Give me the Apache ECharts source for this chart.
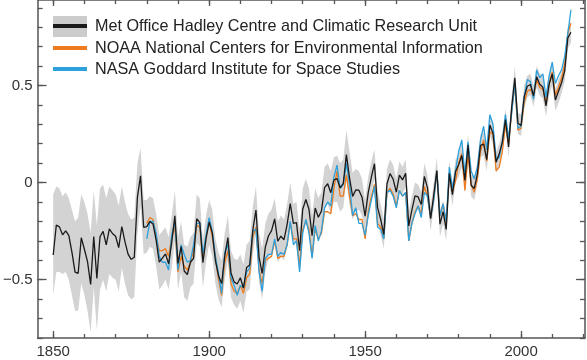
<!DOCTYPE html>
<html><head><meta charset="utf-8">
<script src="https://cdn.jsdelivr.net/npm/echarts@6/dist/echarts.min.js"></script>
<style>html,body{margin:0;padding:0;background:#fff}#c{width:587px;height:360px}</style>
</head><body><div id="c"></div>
<script>
// ---- data ----
const hadStart = 1850;
const hadcrut = [
-0.373,-0.218,-0.228,-0.269,-0.248,-0.272,-0.358,-0.461,-0.467,-0.284,
-0.343,-0.407,-0.524,-0.278,-0.494,-0.279,-0.251,-0.321,-0.238,-0.262,
-0.276,-0.335,-0.227,-0.304,-0.368,-0.395,-0.384,-0.075,0.035,-0.230,
-0.227,-0.200,-0.213,-0.296,-0.409,-0.389,-0.367,-0.418,-0.307,-0.171,
-0.416,-0.330,-0.455,-0.473,-0.410,-0.390,-0.186,-0.206,-0.412,-0.289,
-0.203,-0.259,-0.402,-0.479,-0.520,-0.377,-0.283,-0.465,-0.511,-0.522,
-0.490,-0.544,-0.437,-0.424,-0.244,-0.141,-0.383,-0.468,-0.333,-0.275,
-0.247,-0.187,-0.302,-0.276,-0.294,-0.215,-0.108,-0.210,-0.206,-0.350,
-0.137,-0.087,-0.137,-0.273,-0.131,-0.178,-0.147,-0.026,-0.006,-0.052,
0.014,0.020,-0.027,-0.004,0.144,0.025,-0.071,-0.038,-0.039,-0.074,
-0.173,-0.052,0.028,0.097,-0.129,-0.190,-0.267,-0.007,0.046,0.017,
-0.049,0.038,0.014,0.048,-0.223,-0.140,-0.068,-0.074,-0.113,0.032,
-0.027,-0.186,-0.065,0.062,-0.214,-0.149,-0.241,0.047,-0.062,0.057,
0.092,0.140,0.011,0.194,-0.014,-0.030,0.045,0.192,0.198,0.118,
0.296,0.254,0.105,0.148,0.208,0.325,0.183,0.390,0.539,0.306,
0.294,0.441,0.496,0.505,0.447,0.545,0.506,0.491,0.395,0.506,
0.560,0.425,0.470,0.514,0.576,0.745,0.774];
const hadLow = [
-0.58,-0.46,-0.46,-0.47,-0.46,-0.50,-0.58,-0.66,-0.66,-0.52,
-0.58,-0.66,-0.77,-0.54,-0.76,-0.55,-0.50,-0.56,-0.47,-0.49,
-0.50,-0.56,-0.44,-0.52,-0.58,-0.60,-0.59,-0.26,-0.12,-0.37,
-0.36,-0.33,-0.34,-0.43,-0.55,-0.53,-0.50,-0.55,-0.44,-0.30,
-0.55,-0.46,-0.59,-0.61,-0.54,-0.52,-0.31,-0.33,-0.54,-0.41,
-0.32,-0.38,-0.52,-0.60,-0.64,-0.50,-0.40,-0.59,-0.63,-0.65,
-0.61,-0.67,-0.56,-0.55,-0.37,-0.26,-0.51,-0.60,-0.46,-0.39,
-0.36,-0.29,-0.41,-0.38,-0.40,-0.32,-0.21,-0.31,-0.31,-0.46,
-0.24,-0.19,-0.24,-0.38,-0.23,-0.28,-0.25,-0.13,-0.11,-0.16,
-0.10,-0.10,-0.15,-0.13,0.01,-0.11,-0.19,-0.15,-0.14,-0.17,
-0.26,-0.14,-0.05,0.02,-0.21,-0.27,-0.34,-0.08,-0.03,-0.06,
-0.12,-0.03,-0.06,-0.02,-0.29,-0.21,-0.14,-0.14,-0.18,-0.03,
-0.09,-0.25,-0.13,0.00,-0.28,-0.21,-0.30,-0.01,-0.12,0.00,
0.03,0.08,-0.05,0.13,-0.07,-0.09,-0.01,0.13,0.14,0.06,
0.24,0.20,0.05,0.09,0.15,0.27,0.13,0.33,0.48,0.25,
0.24,0.38,0.44,0.45,0.39,0.49,0.45,0.43,0.34,0.45,
0.50,0.37,0.41,0.46,0.52,0.69,0.72];
const hadHigh = [
-0.06,-0.02,-0.03,-0.07,-0.05,-0.08,-0.14,-0.20,-0.18,-0.06,
-0.10,-0.16,-0.26,-0.04,-0.22,-0.03,-0.01,-0.08,-0.02,-0.04,
-0.06,-0.12,-0.02,-0.10,-0.16,-0.19,-0.18,0.10,0.18,-0.09,
-0.09,-0.07,-0.08,-0.16,-0.27,-0.25,-0.23,-0.28,-0.17,-0.04,
-0.28,-0.20,-0.32,-0.33,-0.28,-0.26,-0.06,-0.08,-0.29,-0.17,
-0.09,-0.14,-0.29,-0.36,-0.40,-0.26,-0.17,-0.35,-0.39,-0.40,
-0.37,-0.42,-0.32,-0.30,-0.12,-0.02,-0.26,-0.34,-0.21,-0.16,
-0.14,-0.08,-0.20,-0.17,-0.19,-0.11,0.00,-0.11,-0.10,-0.24,
-0.03,0.02,-0.03,-0.17,-0.03,-0.08,-0.05,0.08,0.10,0.06,
0.13,0.14,0.10,0.12,0.27,0.16,0.05,0.07,0.06,0.02,
-0.09,0.03,0.11,0.17,-0.05,-0.11,-0.19,0.07,0.12,0.09,
0.02,0.11,0.08,0.12,-0.15,-0.07,0.00,-0.01,-0.05,0.10,
0.04,-0.12,0.00,0.13,-0.15,-0.09,-0.18,0.11,0.00,0.12,
0.15,0.20,0.07,0.25,0.04,0.03,0.10,0.25,0.26,0.18,
0.35,0.31,0.16,0.20,0.26,0.38,0.24,0.45,0.60,0.36,
0.35,0.50,0.55,0.56,0.50,0.60,0.56,0.55,0.45,0.56,
0.62,0.48,0.53,0.57,0.64,0.80,0.83];
const noaaStart = 1880;
const noaa = [
-0.21,-0.18,-0.19,-0.28,-0.35,-0.35,-0.34,-0.38,-0.28,-0.23,
-0.46,-0.38,-0.43,-0.45,-0.41,-0.35,-0.22,-0.23,-0.40,-0.28,
-0.20,-0.28,-0.38,-0.50,-0.58,-0.41,-0.35,-0.52,-0.56,-0.57,
-0.53,-0.57,-0.49,-0.47,-0.28,-0.23,-0.45,-0.52,-0.40,-0.39,
-0.38,-0.30,-0.39,-0.38,-0.38,-0.32,-0.21,-0.29,-0.29,-0.43,
-0.24,-0.20,-0.24,-0.38,-0.24,-0.29,-0.26,-0.15,-0.15,-0.16,
-0.03,0.06,-0.07,-0.07,0.04,-0.07,-0.17,-0.16,-0.19,-0.19,
-0.29,-0.15,-0.07,-0.01,-0.21,-0.23,-0.29,-0.05,-0.03,-0.06,
-0.12,-0.04,-0.07,-0.05,-0.30,-0.21,-0.15,-0.12,-0.16,-0.02,
-0.07,-0.18,-0.08,0.06,-0.17,-0.11,-0.21,0.05,-0.05,0.01,
0.10,0.15,-0.04,0.14,-0.01,-0.05,0.02,0.16,0.22,0.11,
0.26,0.25,0.06,0.08,0.16,0.30,0.20,0.37,0.50,0.27,
0.28,0.41,0.47,0.48,0.44,0.53,0.49,0.48,0.41,0.51,
0.57,0.45,0.49,0.54,0.61,0.77,0.82];
const nasaStart = 1880;
const nasa = [
-0.29,-0.20,-0.20,-0.26,-0.38,-0.41,-0.41,-0.45,-0.27,-0.20,
-0.45,-0.32,-0.37,-0.41,-0.40,-0.32,-0.21,-0.21,-0.37,-0.27,
-0.18,-0.25,-0.38,-0.47,-0.57,-0.36,-0.32,-0.49,-0.53,-0.58,
-0.53,-0.54,-0.46,-0.44,-0.25,-0.24,-0.46,-0.56,-0.39,-0.37,
-0.37,-0.29,-0.38,-0.36,-0.37,-0.32,-0.20,-0.32,-0.30,-0.46,
-0.26,-0.19,-0.26,-0.39,-0.22,-0.30,-0.25,-0.13,-0.10,-0.12,
0.03,0.09,-0.03,-0.01,0.10,-0.01,-0.17,-0.13,-0.21,-0.21,
-0.27,-0.17,-0.09,-0.02,-0.23,-0.24,-0.29,-0.05,-0.04,-0.07,
-0.13,-0.04,-0.07,-0.05,-0.30,-0.21,-0.16,-0.12,-0.18,-0.05,
-0.07,-0.18,-0.09,0.06,-0.17,-0.11,-0.20,0.08,-0.03,0.06,
0.16,0.22,0.04,0.21,0.06,0.02,0.08,0.22,0.29,0.17,
0.35,0.30,0.12,0.13,0.21,0.35,0.23,0.36,0.51,0.28,
0.29,0.44,0.53,0.52,0.43,0.58,0.54,0.56,0.44,0.55,
0.62,0.51,0.55,0.58,0.65,0.77,0.89];
const seriesNames = [
  'Met Office Hadley Centre and Climatic Research Unit',
  'NOAA National Centers for Environmental Information',
  'NASA Goddard Institute for Space Studies'];
const xLabelValues = [1850, 1900, 1950, 2000];
const xMinorTicks = [1850,1860,1870,1880,1890,1900,1910,1920,1930,1940,1950,1960,1970,1980,1990,2000,2010,2020];
const yLabelValues = [-0.5, 0, 0.5];
const yMinorTicks = [-0.8,-0.7,-0.6,-0.5,-0.4,-0.3,-0.2,-0.1,0,0.1,0.2,0.3,0.4,0.5,0.6,0.7,0.8,0.9];

// ---- build ----
const FONT = '"Liberation Sans", Arial, sans-serif';
const AX = '#555';
const C_BLACK = '#1a1a1a', C_ORANGE = '#ee7b1d', C_BLUE = '#2ea0dc', C_BAND = '#d3d3d3';
const toPairs = (start, arr) => arr.map((v, i) => [start + i, v]);
const bandData = hadcrut.map((v, i) => [hadStart + i, hadLow[i], hadHigh[i]]);

const XMIN = 1845, XMAX = 2020.5, YMIN = -0.8, YMAX = 0.94;
function xAx(pos, ticks, len, showLine, labels) {
  return {
    type: 'value', position: pos, min: XMIN, max: XMAX,
    axisLine: { show: showLine, onZero: false, lineStyle: { color: AX, width: 1.5 } },
    axisTick: { show: true, inside: true, length: len, customValues: ticks, lineStyle: { color: AX, width: 1.3 } },
    axisLabel: labels ? { show: true, customValues: labels, fontSize: 15, color: '#333', margin: 6, fontFamily: FONT,
      formatter: v => String(Math.round(v)) } : { show: false },
    splitLine: { show: false }, axisPointer: { show: false }
  };
}
function yAx(pos, ticks, len, showLine, labels) {
  return {
    type: 'value', position: pos, min: YMIN, max: YMAX,
    axisLine: { show: showLine, onZero: false, lineStyle: { color: AX, width: 1.5 } },
    axisTick: { show: true, inside: true, length: len, customValues: ticks, lineStyle: { color: AX, width: 1.3 } },
    axisLabel: labels ? { show: true, customValues: labels, fontSize: 15, color: '#333', margin: 5, fontFamily: FONT,
      formatter: v => (v < 0 ? '\u2212' + Math.abs(v) : String(v)) } : { show: false },
    splitLine: { show: false }, axisPointer: { show: false }
  };
}

const legendY = [26, 48, 69];
const graphics = [
  { type: 'rect', shape: { x: 53, y: 16, width: 34, height: 21 }, style: { fill: '#cccccc' } },
  { type: 'line', shape: { x1: 53, y1: legendY[0], x2: 87, y2: legendY[0] }, style: { stroke: C_BLACK, lineWidth: 4 } },
  { type: 'line', shape: { x1: 53, y1: legendY[1], x2: 87, y2: legendY[1] }, style: { stroke: C_ORANGE, lineWidth: 4 } },
  { type: 'line', shape: { x1: 53, y1: legendY[2], x2: 87, y2: legendY[2] }, style: { stroke: C_BLUE, lineWidth: 4 } }
];
seriesNames.forEach((n, i) => graphics.push({
  type: 'text', x: 95, y: legendY[i] + 0.5,
  style: { text: n, fill: '#222', font: '16.2px ' + FONT, verticalAlign: 'middle', align: 'left' }
}));

const chart = echarts.init(document.getElementById('c'), null, { renderer: 'canvas' });
chart.setOption({
  animation: false,
  backgroundColor: '#fff',
  grid: { left: 37, right: 2, top: 0, bottom: 22, containLabel: false },
  xAxis: [
    xAx('bottom', xLabelValues, 7, true, xLabelValues),
    xAx('bottom', xMinorTicks, 4, false, null),
    xAx('top', xMinorTicks, 4, true, null),
    xAx('top', xLabelValues, 6, false, null)
  ],
  yAxis: [
    yAx('left', yLabelValues, 9, true, yLabelValues),
    yAx('left', yMinorTicks, 5, false, null),
    yAx('right', yMinorTicks, 5, true, null),
    yAx('right', yLabelValues, 9, false, null)
  ],
  graphic: graphics,
  series: [
    {
      type: 'custom', name: 'band', xAxisIndex: 0, yAxisIndex: 0, silent: true, z: 1,
      data: bandData, encode: { x: 0, y: [1, 2] },
      renderItem: function (params, api) {
        if (params.dataIndex !== 0) return null;
        const pts = [];
        for (let i = 0; i < bandData.length; i++) pts.push(api.coord([bandData[i][0], bandData[i][2]]));
        for (let i = bandData.length - 1; i >= 0; i--) pts.push(api.coord([bandData[i][0], bandData[i][1]]));
        return { type: 'polygon', shape: { points: pts }, style: { fill: C_BAND } };
      }
    },
    { type: 'line', name: seriesNames[1], data: toPairs(noaaStart, noaa), showSymbol: false, z: 3,
      lineStyle: { color: C_ORANGE, width: 1.3 }, itemStyle: { color: C_ORANGE } },
    { type: 'line', name: seriesNames[2], data: toPairs(nasaStart, nasa), showSymbol: false, z: 4,
      lineStyle: { color: C_BLUE, width: 1.3 }, itemStyle: { color: C_BLUE } },
    { type: 'line', name: seriesNames[0], data: toPairs(hadStart, hadcrut), showSymbol: false, z: 5,
      lineStyle: { color: C_BLACK, width: 1.3 }, itemStyle: { color: C_BLACK } }
  ]
});
</script>
</body></html>
